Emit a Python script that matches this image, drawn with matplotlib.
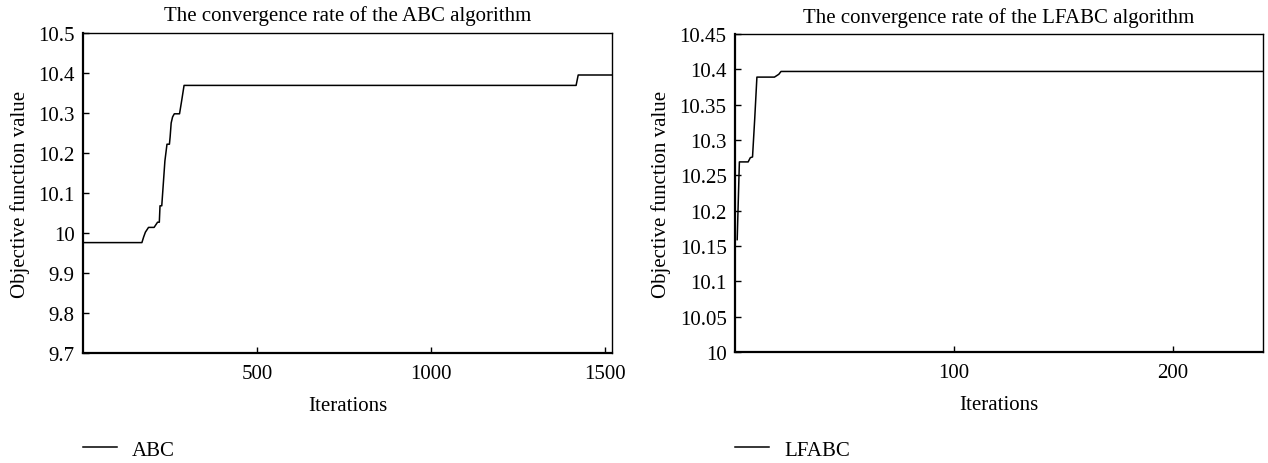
import matplotlib
matplotlib.use("Agg")
import matplotlib.pyplot as plt
from matplotlib.ticker import FuncFormatter

# ABC convergence data (iteration, objective value)
abc_iter = [1, 170, 175, 180, 189, 205, 215, 220, 222, 227, 232, 236, 242, 249,
            251, 254, 258, 263, 278, 284, 291, 1416, 1422, 1519]
abc_val = [9.976, 9.976, 9.99, 10.002, 10.014, 10.014, 10.027, 10.027, 10.068, 10.068,
           10.13, 10.18, 10.222, 10.222, 10.24, 10.275, 10.29, 10.298, 10.298, 10.33,
           10.369, 10.369, 10.395, 10.395]

# LFABC convergence data
lf_iter = [1, 2, 6, 7, 8, 9, 10, 18, 20, 21, 241]
lf_val = [10.159, 10.269, 10.269, 10.275, 10.276, 10.33, 10.389, 10.389, 10.393, 10.397, 10.397]

abc_xticks = [500, 1000, 1500]
abc_yticks = [9.7, 9.8, 9.9, 10.0, 10.1, 10.2, 10.3, 10.4, 10.5]
lf_xticks = [100, 200]
lf_yticks = [10.0, 10.05, 10.1, 10.15, 10.2, 10.25, 10.3, 10.35, 10.4, 10.45]

FS = 15
plt.rcParams['font.family'] = ['Liberation Serif', 'DejaVu Serif']
plt.rcParams['font.size'] = FS

W, H = 1268, 464
fig = plt.figure(figsize=(W / 100, H / 100), dpi=100)

def px_axes(l, t, r, b):
    return fig.add_axes([l / W, 1 - b / H, (r - l) / W, (b - t) / H])

fmt = FuncFormatter(lambda v, p: ('%.2f' % v).rstrip('0').rstrip('.'))

def style(ax):
    for s in ['left', 'bottom']:
        ax.spines[s].set_linewidth(1.6)
    for s in ['top', 'right']:
        ax.spines[s].set_linewidth(1.0)
    ax.tick_params(direction='in', length=4, width=1, labelsize=FS,
                   top=False, right=False)
    ax.tick_params(axis='y', pad=6)
    ax.tick_params(axis='x', pad=8)
    ax.yaxis.set_major_formatter(fmt)

ax1 = px_axes(83, 34, 612, 354)
l1, = ax1.plot(abc_iter, abc_val, color='black', lw=1.1, label='ABC')
ax1.set_xlim(1, 1519)
ax1.set_ylim(9.7, 10.5)
ax1.set_xticks(abc_xticks)
ax1.set_yticks(abc_yticks)
style(ax1)
ax1.set_title('The convergence rate of the ABC algorithm', fontsize=FS, pad=9)
ax1.set_xlabel('Iterations', fontsize=FS, labelpad=9)
ax1.set_ylabel('Objective function value', fontsize=FS, labelpad=6)

ax2 = px_axes(735, 35, 1263, 353)
l2, = ax2.plot(lf_iter, lf_val, color='black', lw=1.1, label='LFABC')
ax2.set_xlim(0, 241)
ax2.set_ylim(10.0, 10.45)
ax2.set_xticks(lf_xticks)
ax2.set_yticks(lf_yticks)
style(ax2)
ax2.set_title('The convergence rate of the LFABC algorithm', fontsize=FS, pad=9)
ax2.set_xlabel('Iterations', fontsize=FS, labelpad=9)
ax2.set_ylabel('Objective function value', fontsize=FS, labelpad=6)

for line, xl in [(l1, 83), (l2, 735)]:
    fig.legend(handles=[line], loc='center left', bbox_to_anchor=(xl / W, 1 - 451 / H),
               frameon=False, borderpad=0, borderaxespad=0, handlelength=1.65,
               handletextpad=0.7, fontsize=FS)

fig.savefig('out.png', dpi=100)
